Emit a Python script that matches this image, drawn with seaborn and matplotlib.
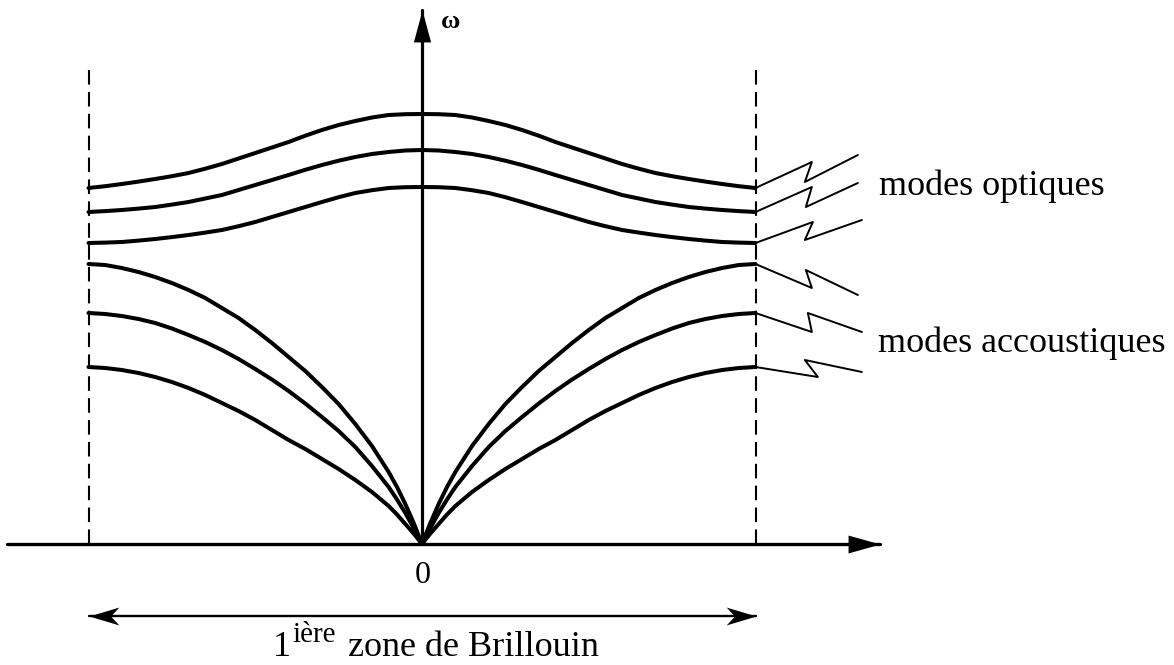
import matplotlib
matplotlib.use("Agg")
import matplotlib.pyplot as plt
from matplotlib.path import Path
import pandas as pd
import seaborn as sns

# Reduced wave vector over half of the first Brillouin zone (edge at q = 1)
q_optical = [0.0, 0.05, 0.1, 0.15, 0.2, 0.25, 0.3, 0.35, 0.4, 0.45, 0.5,
             0.55, 0.6, 0.65, 0.7, 0.75, 0.8, 0.85, 0.9, 0.95, 1.0]
q_acoustic = [0.0, 0.025, 0.05, 0.075, 0.1, 0.15, 0.2, 0.25, 0.3, 0.35, 0.4,
              0.45, 0.5, 0.55, 0.6, 0.65, 0.7, 0.75, 0.8, 0.85, 0.9, 0.95, 1.0]

# Dispersion branches omega(q), arbitrary units, symmetric in q
optical_1 = [430, 429.8, 429, 426.5, 423, 419, 414, 408.3, 402, 396.5, 391,
             385.5, 380, 375.3, 371, 367.8, 365, 362.4, 360, 357.8, 356]
optical_2 = [394, 393.5, 392, 390, 387, 383.3, 379, 374.2, 369, 364, 359,
             354, 349, 345.5, 342, 339.4, 337, 335.4, 334, 332.9, 332]
optical_3 = [357, 356.8, 356, 353.8, 351, 346.8, 342, 337, 332, 327, 322,
             317.8, 314, 311.4, 309, 306.9, 305, 303.4, 302, 301.4, 301]
acoustic_1 = [0, 21, 40, 57, 72, 98, 120, 140, 157, 173, 187,
              201, 214, 226, 236, 246, 254, 261, 267, 272, 276, 279, 280]
acoustic_2 = [0, 16, 31, 44.5, 57, 78, 97, 113, 127, 140.5, 153,
              164.5, 175, 185, 194, 202, 209, 215.5, 221, 225, 228, 230, 231]
acoustic_3 = [0, 10.5, 20, 29.5, 38, 52, 64, 75, 85, 95, 104,
              114, 124, 133, 141, 149, 156, 162, 167, 171, 174, 176, 177]

# Break marks continuing each branch beyond the zone edge
zig_q = [
    [1.0, 1.169, 1.148, 1.307],
    [1.0, 1.169, 1.151, 1.307],
    [1.0, 1.172, 1.148, 1.319],
    [1.0, 1.169, 1.151, 1.307],
    [1.0, 1.169, 1.157, 1.319],
    [1.0, 1.187, 1.148, 1.319],
]
zig_w = [
    [356, 382, 362, 389],
    [332, 357, 337, 361],
    [301, 322, 304, 324],
    [280, 256, 274, 249],
    [231, 212, 231, 212],
    [177, 167, 184, 172],
]

zone_edges = [-1.0, 1.0]
zone_top = 476

label_optical = "modes optiques"
label_acoustic = "modes accoustiques"
label_origin = "0"
label_omega = "\u03c9"
label_zone = ("1", "i\u00e8re", "zone de Brillouin")


def mirrored(q, w):
    return [-v for v in q[::-1]] + q[1:], w[::-1] + w[1:]


rows = []
for name, q, w in [
    ("o1", q_optical, optical_1),
    ("o2", q_optical, optical_2),
    ("o3", q_optical, optical_3),
    ("a1", q_acoustic, acoustic_1),
    ("a2", q_acoustic, acoustic_2),
    ("a3", q_acoustic, acoustic_3),
]:
    qq, ww = mirrored(q, w)
    for a, b in zip(qq, ww):
        rows.append({"branch": name, "q": a, "omega": b})
branches = pd.DataFrame(rows)

zig_rows = []
for k, (qs, ws) in enumerate(zip(zig_q, zig_w)):
    for a, b in zip(qs, ws):
        zig_rows.append({"mark": k, "q": a, "omega": b})
zigzags = pd.DataFrame(zig_rows)

sns.set_theme(style="white")
plt.rcParams["font.family"] = ["Liberation Serif", "DejaVu Serif"]
plt.rcParams["text.color"] = "black"

fig = plt.figure(figsize=(11.74, 6.65), dpi=100)
ax = fig.add_axes([0, 0, 1, 1])
ax.set_xlim(-422 / 333.5, (1174 - 422) / 333.5)
ax.set_ylim(-121, 544)
ax.set_axis_off()

# Arrowhead shapes (tip at the origin of each path)
head_right = Path([(0, 0), (-1, 0.28), (-1, -0.28), (0, 0)],
                  [Path.MOVETO, Path.LINETO, Path.LINETO, Path.CLOSEPOLY])
head_up = Path([(0, 0), (0.27, -1), (-0.27, -1), (0, 0)],
               [Path.MOVETO, Path.LINETO, Path.LINETO, Path.CLOSEPOLY])
stealth_right = Path([(0, 0), (-1, 0.3), (-0.72, 0), (-1, -0.3), (0, 0)],
                     [Path.MOVETO, Path.LINETO, Path.LINETO, Path.LINETO, Path.CLOSEPOLY])
stealth_left = Path([(0, 0), (1, 0.3), (0.72, 0), (1, -0.3), (0, 0)],
                    [Path.MOVETO, Path.LINETO, Path.LINETO, Path.LINETO, Path.CLOSEPOLY])

# Zone boundaries
for qe in zone_edges:
    ax.plot([qe, qe], [0, zone_top], color="black", lw=1.5,
            dashes=(7, 3.5), solid_capstyle="butt", zorder=1)

# Coordinate axes
ax.plot([-1.244, 1.373], [0, 0], color="black", lw=2.4, zorder=2)
ax.plot([1.373], [0], marker=head_right, ms=46, color="black", mew=0, zorder=3)
ax.plot([0, 0], [0, 534], color="black", lw=2.3, zorder=2)
ax.plot([0], [534], marker=head_up, ms=46, color="black", mew=0, zorder=3)

# Dispersion branches
sns.lineplot(data=branches, x="q", y="omega", units="branch", estimator=None,
             sort=False, color="black", lw=2.9, ax=ax, legend=False, zorder=4,
             solid_joinstyle="round", solid_capstyle="round")

# Break marks
sns.lineplot(data=zigzags, x="q", y="omega", units="mark", estimator=None,
             sort=False, color="black", lw=1.4, ax=ax, legend=False, zorder=4)

# Extent of the first Brillouin zone
ax.plot(zone_edges, [-72, -72], color="black", lw=1.7, zorder=2)
ax.plot([zone_edges[1]], [-72], marker=stealth_right, ms=43, color="black", mew=0)
ax.plot([zone_edges[0]], [-72], marker=stealth_left, ms=43, color="black", mew=0)

ax.set_xlabel("")
ax.set_ylabel("")

# Labels
ax.text(1.370, 349, label_optical, fontsize=26, ha="left", va="baseline")
ax.text(1.367, 192, label_acoustic, fontsize=26, ha="left", va="baseline")
ax.text(0.003, -39, label_origin, fontsize=23, ha="center", va="baseline")
ax.text(0.057, 516, label_omega, fontsize=19, ha="left", va="baseline",
        fontweight="bold")

zone_base = -112
t1 = ax.text(-0.447, zone_base, label_zone[0], fontsize=26, ha="left", va="baseline")
t2 = ax.annotate(label_zone[1], xy=(1, zone_base), xycoords=(t1, "data"),
                 xytext=(1, 10), textcoords="offset points",
                 fontsize=21, ha="left", va="baseline")
t3 = ax.annotate(label_zone[2], xy=(1, zone_base), xycoords=(t2, "data"),
                 xytext=(9, 0), textcoords="offset points",
                 fontsize=26, ha="left", va="baseline")

fig.savefig("out.png", dpi=100, facecolor="white")
